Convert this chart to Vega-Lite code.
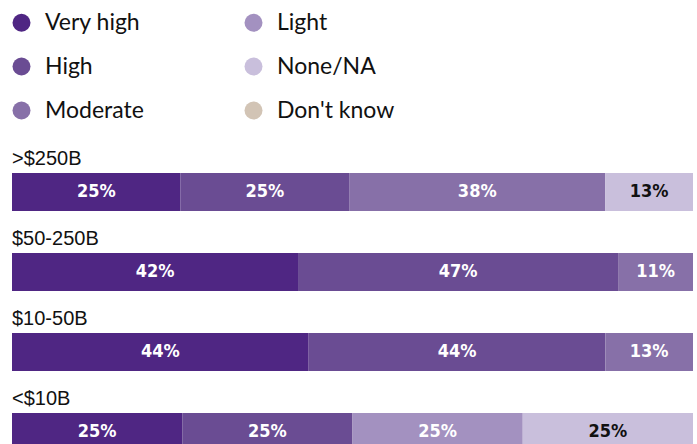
{
  "$schema": "https://vega.github.io/schema/vega-lite/v6.json",
  "width": 681,
  "height": 278,
  "autosize": {"type": "none"},
  "padding": {"left": 12, "top": 173, "right": 4, "bottom": 0},
  "background": "white",
  "config": {"view": {"stroke": null}},
  "data": {
    "values": [
      {"size": ">$250B", "level": "Very high", "rank": 1, "value": 25},
      {"size": ">$250B", "level": "High", "rank": 2, "value": 25},
      {"size": ">$250B", "level": "Moderate", "rank": 3, "value": 38},
      {"size": ">$250B", "level": "None/NA", "rank": 5, "value": 13},
      {"size": "$50-250B", "level": "Very high", "rank": 1, "value": 42},
      {"size": "$50-250B", "level": "High", "rank": 2, "value": 47},
      {"size": "$50-250B", "level": "Moderate", "rank": 3, "value": 11},
      {"size": "$10-50B", "level": "Very high", "rank": 1, "value": 44},
      {"size": "$10-50B", "level": "High", "rank": 2, "value": 44},
      {"size": "$10-50B", "level": "Moderate", "rank": 3, "value": 13},
      {"size": "<$10B", "level": "Very high", "rank": 1, "value": 25},
      {"size": "<$10B", "level": "High", "rank": 2, "value": 25},
      {"size": "<$10B", "level": "Light", "rank": 4, "value": 25},
      {"size": "<$10B", "level": "None/NA", "rank": 5, "value": 25},
      {"size": "<$10B", "level": "Don't know", "rank": 6, "value": 0}
    ]
  },
  "transform": [
    {"stack": "value", "groupby": ["size"], "sort": [{"field": "rank"}], "offset": "normalize", "as": ["v0", "v1"]},
    {"calculate": "(datum.v0 + datum.v1) / 2", "as": "mid"},
    {"calculate": "datum.value + '%'", "as": "label"}
  ],
  "encoding": {
    "y": {
      "field": "size", "type": "nominal",
      "sort": [">$250B", "$50-250B", "$10-50B", "<$10B"],
      "scale": {"paddingInner": 0.525, "paddingOuter": 0, "align": 0},
      "axis": null
    }
  },
  "layer": [
    {
      "mark": {"type": "bar"},
      "encoding": {
        "x": {"field": "v0", "type": "quantitative", "scale": {"domain": [0, 1], "nice": false, "zero": true}, "axis": null},
        "x2": {"field": "v1"},
        "color": {
          "field": "level", "type": "nominal",
          "scale": {
            "domain": ["Very high", "High", "Moderate", "Light", "None/NA", "Don't know"],
            "range": ["#4f2683", "#6a4c93", "#8770a8", "#a391c0", "#c9bfdc", "#d2c4b5"]
          },
          "legend": {
            "orient": "none",
            "legendX": -2,
            "legendY": -162,
            "title": null,
            "columns": 2,
            "padding": 0,
            "symbolType": "circle",
            "symbolSize": 324,
            "symbolStrokeWidth": 0,
            "symbolOpacity": 1,
            "labelFont": "Lato",
            "labelFontSize": 23,
            "labelColor": "#111111",
            "labelOffset": 12,
            "rowPadding": 20,
            "columnPadding": 98,
            "labelLimit": 300
          }
        }
      }
    },
    {
      "transform": [{"filter": "datum.value > 0"}],
      "mark": {"type": "text", "font": "DejaVu Sans Condensed, Liberation Sans", "fontWeight": "bold", "fontSize": 18, "baseline": "middle", "align": "center"},
      "encoding": {
        "x": {"field": "mid", "type": "quantitative"},
        "text": {"field": "label"},
        "color": {"condition": {"test": "datum.level === 'None/NA'", "value": "#111111"}, "value": "white"}
      }
    },
    {
      "transform": [{"filter": "datum.rank === 1"}],
      "mark": {"type": "text", "font": "Liberation Sans", "fontSize": 20, "align": "left", "baseline": "alphabetic", "dy": -27, "color": "#111111"},
      "encoding": {
        "x": {"datum": 0, "type": "quantitative"},
        "text": {"field": "size"}
      }
    }
  ]
}
